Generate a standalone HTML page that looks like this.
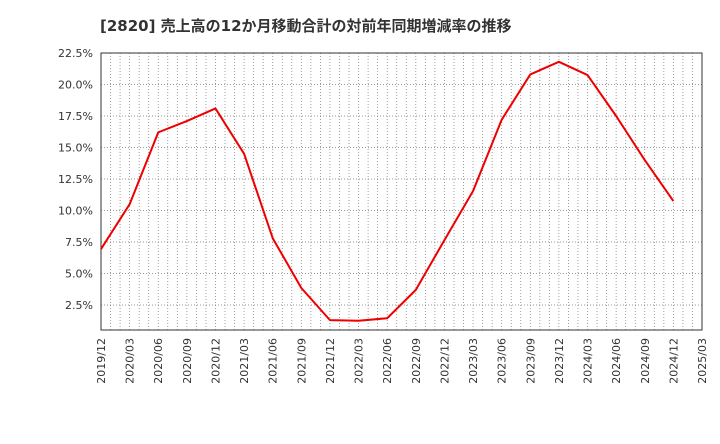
<!DOCTYPE html>
<html><head><meta charset="utf-8"><style>
body{margin:0;background:#fff;font-family:"DejaVu Sans","Noto Sans CJK JP",sans-serif;}
</style></head><body>
<svg width="720" height="440" xmlns="http://www.w3.org/2000/svg" font-family="DejaVu Sans, Noto Sans CJK JP, sans-serif">
<text x="100" y="31" font-size="15" font-weight="bold" fill="#333">[2820]  売上高の12か月移動合計の対前年同期増減率の推移</text>
<g id="grid"></g><g id="axes"></g><g id="series"></g>
</svg>
<script>
const categories=["2019/12","2020/03","2020/06","2020/09","2020/12","2021/03","2021/06","2021/09","2021/12","2022/03","2022/06","2022/09","2022/12","2023/03","2023/06","2023/09","2023/12","2024/03","2024/06","2024/09","2024/12"];
const xTickLabels=["2019/12","2020/03","2020/06","2020/09","2020/12","2021/03","2021/06","2021/09","2021/12","2022/03","2022/06","2022/09","2022/12","2023/03","2023/06","2023/09","2023/12","2024/03","2024/06","2024/09","2024/12","2025/03"];
const values=[6.94,10.5,16.2,17.1,18.1,14.5,7.8,3.85,1.3,1.25,1.45,3.7,7.65,11.55,17.2,20.8,21.8,20.75,17.5,14.0,10.75];
const yTicks=[2.5,5,7.5,10,12.5,15,17.5,20,22.5];
const yTickLabels=["2.5%","5.0%","7.5%","10.0%","12.5%","15.0%","17.5%","20.0%","22.5%"];
const L=101,R=702,T=53,B=330,NS="http://www.w3.org/2000/svg";
const qw=(R-L)/(xTickLabels.length-1);
const x=i=>L+i*qw;
const y=v=>336.5-v/2.5*31.5;
function mk(tag,attrs,parent){const e=document.createElementNS(NS,tag);for(const k in attrs)e.setAttribute(k,attrs[k]);document.getElementById(parent).appendChild(e);return e;}
for(let m=1;m<(xTickLabels.length-1)*3;m++){const gx=L+m*qw/3;
const g=mk("line",{x1:gx,x2:gx,y1:T,y2:B,stroke:"#888","stroke-width":0.8,"stroke-dasharray":"1,2"},"grid");

}
yTicks.forEach((v,i)=>{const gy=y(v);
const g=mk("line",{x1:L,x2:R,y1:gy,y2:gy,stroke:"#777","stroke-width":0.8,"stroke-dasharray":"1,2"},"grid");


const t=mk("text",{x:L-8,y:gy+4,"text-anchor":"end","font-size":11,fill:"#333"},"axes");t.textContent=yTickLabels[i];

});
xTickLabels.forEach((lab,i)=>{const tx=x(i)+4;
const t=mk("text",{x:0,y:0,transform:`translate(${tx},${B+8}) rotate(-90)`,"text-anchor":"end","font-size":11,fill:"#333"},"axes");t.textContent=lab;

});
const fr=mk("rect",{x:L,y:T,width:R-L,height:B-T,fill:"none",stroke:"#333","stroke-width":1},"axes");


const p=mk("polyline",{points:values.map((v,i)=>x(i)+","+y(v)).join(" "),fill:"none",stroke:"#e00",
"stroke-width":2,"stroke-linejoin":"round"},"series");


</script>
</body></html>
